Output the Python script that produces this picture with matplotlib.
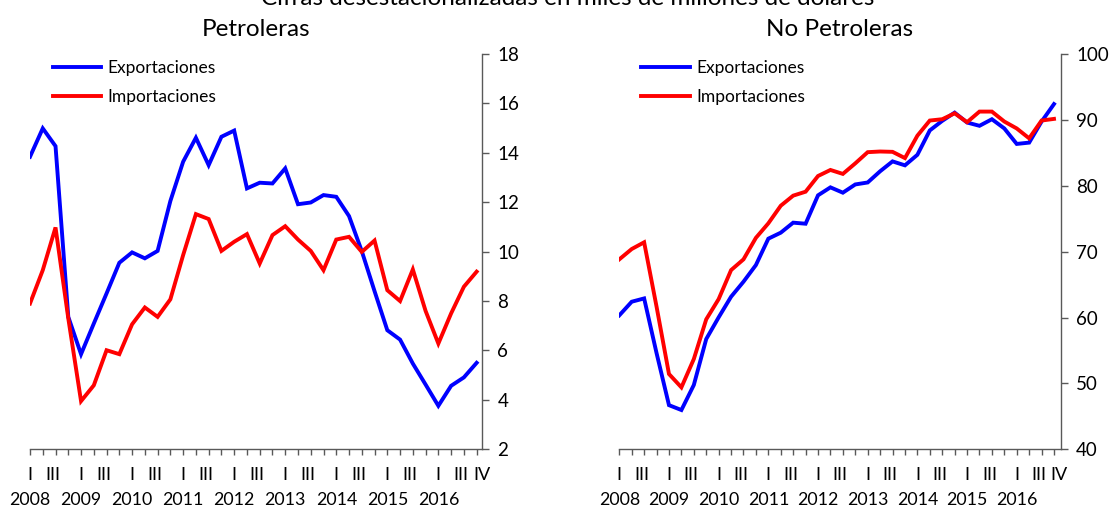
import numpy as np
import matplotlib
matplotlib.use('Agg')
import matplotlib.pyplot as plt
import matplotlib.transforms as mtransforms

plt.rcParams['font.family'] = ['Lato', 'DejaVu Sans']

# datos trimestrales 2008-I a 2016-IV
anios = ['2008', '2009', '2010', '2011', '2012', '2013', '2014', '2015', '2016']

pet_exp = [13.84, 14.99, 14.27, 7.36, 5.85, 7.09, 8.31, 9.55, 9.97, 9.73,
           10.03, 12.05, 13.64, 14.61, 13.50, 14.65, 14.90, 12.56, 12.79, 12.76,
           13.37, 11.92, 11.99, 12.29, 12.22, 11.44, 10.02, 8.40, 6.82, 6.44,
           5.47, 4.62, 3.76, 4.57, 4.91, 5.50]
pet_imp = [7.90, 9.25, 10.98, 7.30, 3.95, 4.59, 6.01, 5.85, 7.06, 7.74,
           7.36, 8.07, 9.86, 11.52, 11.32, 10.03, 10.40, 10.71, 9.52, 10.67,
           11.03, 10.49, 10.03, 9.25, 10.49, 10.60, 9.99, 10.45, 8.44, 8.00,
           9.28, 7.60, 6.28, 7.50, 8.58, 9.19]
np_exp = [60.33, 62.4, 62.9, 54.6, 46.7, 45.96, 49.76, 56.74, 60.03, 63.16,
          65.44, 67.97, 71.97, 72.88, 74.4, 74.24, 78.55, 79.76, 78.95, 80.2,
          80.5, 82.2, 83.7, 83.1, 84.7, 88.4, 89.85, 91.1, 89.6, 89.1,
          90.1, 88.7, 86.35, 86.55, 89.75, 92.4]
np_imp = [68.83, 70.4, 71.42, 61.65, 51.43, 49.4, 53.7, 59.73, 62.8, 67.2,
          68.83, 72.1, 74.3, 76.97, 78.5, 79.1, 81.48, 82.4, 81.8, 83.4,
          85.1, 85.2, 85.15, 84.2, 87.6, 89.9, 90.1, 91.0, 89.65, 91.26,
          91.26, 89.75, 88.7, 87.2, 89.9, 90.15]

W, H = 1112, 511
fig = plt.figure(figsize=(W / 100, H / 100), dpi=100)

def px_axes(x0, x1, y_top, y_bot):
    return fig.add_axes([x0 / W, 1 - y_bot / H, (x1 - x0) / W, (y_bot - y_top) / H])

def panel(ax, exp, imp, ylim, yticks, titulo, xmax):
    n = len(exp)
    x = np.arange(n)
    ax.plot(x, exp, color='#0000FF', lw=2.8, label='Exportaciones', solid_joinstyle='miter')
    ax.plot(x, imp, color='#FF0000', lw=2.8, label='Importaciones', solid_joinstyle='miter')
    ax.set_xlim(0, xmax)
    ax.set_ylim(*ylim)
    ax.set_yticks(yticks)
    ax.yaxis.tick_right()
    for s in ['top', 'left']:
        ax.spines[s].set_visible(False)
    for s in ['right', 'bottom']:
        ax.spines[s].set_color('#595959')
        ax.spines[s].set_linewidth(1.0)
    ax.tick_params(axis='y', direction='out', length=5, width=1, color='#595959',
                   labelsize=13.5, pad=6)
    ax.set_xticks(x)
    ax.set_xticklabels([])
    ax.tick_params(axis='x', direction='out', length=4, width=1, color='#595959')
    # etiquetas de trimestre y de año
    trans = mtransforms.blended_transform_factory(ax.transData, ax.transAxes)
    for i in range(n):
        if i == n - 1:
            lab, dx = 'IV', 0.4
        elif i % 4 == 0:
            lab, dx = 'I', 0.0
        elif i % 4 == 2:
            lab, dx = 'III', -0.2
        else:
            continue
        ax.text(i + dx, -0.065, lab, transform=trans, ha='center', va='center',
                fontsize=13)
    for k, a in enumerate(anios):
        ax.text(4 * k, -0.128, a, transform=trans, ha='center', va='center',
                fontsize=12.8)
    ax.set_title(titulo, fontsize=17.5, pad=13)
    ax.legend(loc='upper left', bbox_to_anchor=(0.05, 0.985), frameon=False,
              fontsize=12.5, handlelength=2.8, handletextpad=0.35, labelspacing=0.75,
              borderaxespad=0, borderpad=0)

ax1 = px_axes(30, 482, 54, 449.3)
panel(ax1, pet_exp, pet_imp, (2, 18), range(2, 19, 2), 'Petroleras', 35.42)

ax2 = px_axes(619.3, 1060.7, 54, 449.3)
panel(ax2, np_exp, np_imp, (40, 100), range(40, 101, 10), 'No Petroleras', 35.54)

# titulo general (recortado arriba como en el original)
fig.text(568 / W, 1 - 5 / H, 'Cifras desestacionalizadas en miles de millones de dólares',
         ha='center', va='baseline', fontsize=17.5)

fig.savefig('out.png', dpi=100)
